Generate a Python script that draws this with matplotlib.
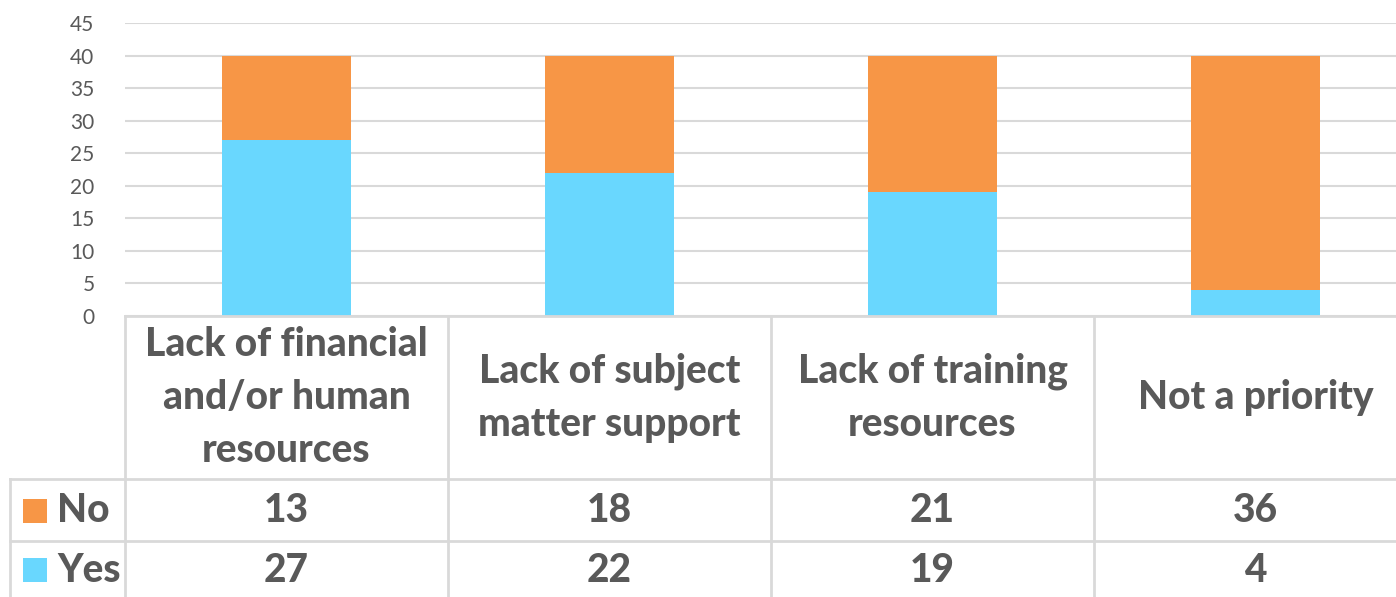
import numpy as np
import matplotlib
matplotlib.use("Agg")
import matplotlib.pyplot as plt

plt.rcParams["font.family"] = ["Lato", "DejaVu Sans"]

# ---- data ----
categories = ["Lack of financial\nand/or human\nresources",
              "Lack of subject\nmatter support",
              "Lack of training\nresources",
              "Not a priority"]
series_names = ["No", "Yes"]
yes_vals = [27, 22, 19, 4]
no_vals = [13, 18, 21, 36]

c_yes = "#69D7FE"
c_no = "#F79646"
c_grid = "#D9D9D9"
c_text = "#595959"

W, H = 1396, 597
fig = plt.figure(figsize=(W / 100, H / 100), dpi=100, facecolor="white")

# main bar axes (x range -0.5..3.5 spans 125..1417 px)
left = 125 / W
width = 1292 / W
top_px, zero_px = 23, 316
ax = fig.add_axes([left, (H - zero_px) / H, width, (zero_px - top_px) / H])
x = np.arange(len(categories))
ax.bar(x, yes_vals, width=0.4, color=c_yes, zorder=3)
ax.bar(x, no_vals, width=0.4, bottom=yes_vals, color=c_no, zorder=3)
ax.set_xlim(-0.5, 3.5)
ax.set_ylim(0, 45)
ax.set_yticks(np.arange(0, 46, 5))
ax.yaxis.grid(True, color=c_grid, linewidth=1.5)
ax.set_axisbelow(True)
ax.tick_params(axis="y", length=0, labelsize=15, labelcolor=c_text, pad=22)
ax.set_xticks([])
for s in ["top", "right", "left", "bottom"]:
    ax.spines[s].set_visible(False)

# data table below the bars (y in pixels from the zero line)
tax = fig.add_axes([left, 0, width, (H - zero_px) / H], sharex=ax)
tax.set_ylim(H - zero_px, 0)
tax.axis("off")
hdr_b, no_b, yes_b = 163, 225, 300
lk = dict(color=c_grid, linewidth=2, clip_on=False)
tax.plot([-0.5, 3.5], [0, 0], **lk)
x_row0 = -0.5 - 115 / 323
tax.plot([x_row0, 3.5], [hdr_b, hdr_b], **lk)
tax.plot([x_row0, 3.5], [no_b, no_b], **lk)
tax.plot([x_row0, x_row0], [hdr_b, yes_b], **lk)
for i in range(len(categories) + 1):
    tax.plot([i - 0.5, i - 0.5], [0, yes_b], **lk)

fw = 900
tk = dict(ha="center", va="center", color=c_text, fontweight=fw, clip_on=False)
y_no = (hdr_b + no_b) / 2 + 1
y_yes = no_b + 29
for i, cat in enumerate(categories):
    tax.text(i, hdr_b / 2, cat, fontsize=28, linespacing=1.55, **tk)
    tax.text(i, y_no, str(no_vals[i]), fontsize=28, **tk)
    tax.text(i, y_yes, str(yes_vals[i]), fontsize=28, **tk)

# legend keys in row header
for name, col, yc in [("No", c_no, y_no), ("Yes", c_yes, y_yes)]:
    tax.scatter([x_row0 + 25 / 323], [yc], marker="s", s=(24 * 0.72) ** 2,
                color=col, clip_on=False, linewidths=0)
    tax.text(x_row0 + 47 / 323, yc, name, ha="left", va="center", color=c_text,
             fontweight=fw, fontsize=28, clip_on=False)

fig.savefig("out.png", dpi=100, facecolor="white")
